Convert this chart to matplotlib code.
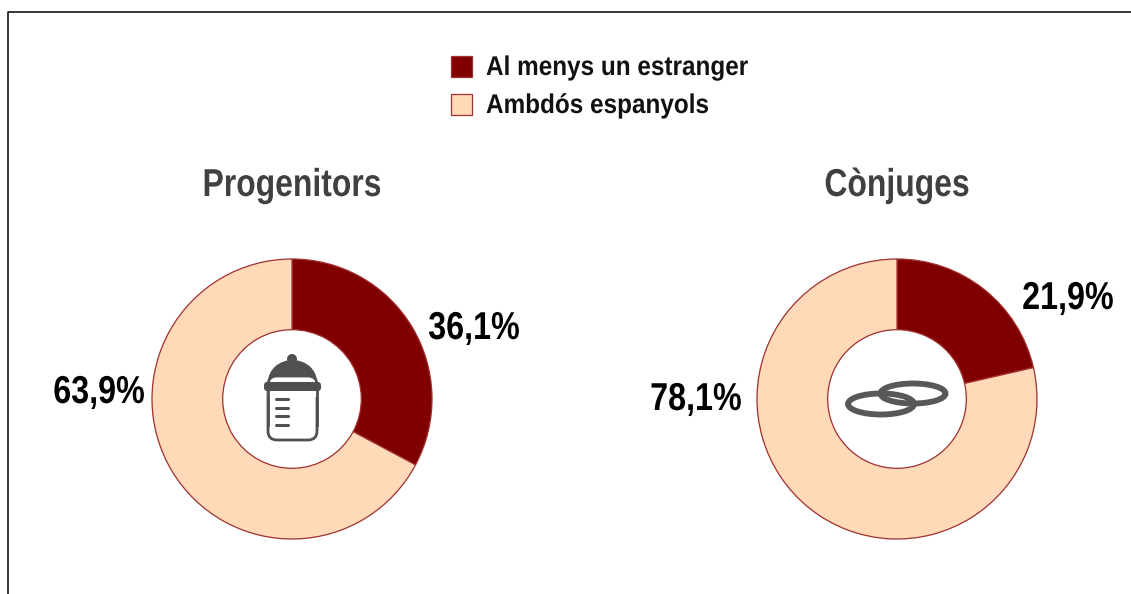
import matplotlib
matplotlib.use("Agg")
import matplotlib.pyplot as plt
from matplotlib.patches import Rectangle, Ellipse, FancyBboxPatch
from matplotlib.lines import Line2D
from matplotlib.patheffects import AbstractPathEffect
from matplotlib.transforms import Affine2D

W, H = 1131, 594
CHART_TITLES = ["Progenitors", "Cònjuges"]
SERIES = ["Al menys un estranger", "Ambdós espanyols"]
# slice sizes as drawn in the picture (the printed labels differ from them)
PROGENITORS = [32.8, 67.2]
CONJUGES = [21.4, 78.6]
LABELS_P = ["36,1%", "63,9%"]
LABELS_C = ["21,9%", "78,1%"]
COLORS = ["#800000", "#FFD9B8"]
EDGE = "#A03030"
GREY = "#505050"
FONT = ["Liberation Sans", "DejaVu Sans"]


class Narrow(AbstractPathEffect):
    """Squeeze real text horizontally about a pixel column."""
    def __init__(self, cx, k):
        super().__init__()
        self.cx, self.k = cx, k

    def draw_path(self, renderer, gc, tpath, affine, rgbFace=None):
        squeeze = Affine2D().translate(-self.cx, 0).scale(self.k, 1).translate(self.cx, 0)
        renderer.draw_path(gc, tpath, affine + squeeze, rgbFace)


fig = plt.figure(figsize=(W / 100, H / 100), dpi=100, facecolor="white")


def donut(cx, cy, r, vals):
    ax = fig.add_axes([(cx - r - 2) / W, 1 - (cy + r + 2) / H, (2 * r + 4) / W, (2 * r + 4) / H])
    ax.pie(vals, colors=COLORS, startangle=90, counterclock=False, radius=1.0,
           wedgeprops=dict(width=0.505, edgecolor=EDGE, linewidth=0.9))
    ax.set_xlim(-(r + 2) / r, (r + 2) / r); ax.set_ylim(-(r + 2) / r, (r + 2) / r)
    ax.set_aspect("equal"); ax.axis("off")
    ax.patch.set_alpha(0)


donut(292, 399, 140, PROGENITORS)
donut(897, 399, 140, CONJUGES)

top = fig.add_axes([0, 0, 1, 1])
top.set_xlim(0, W); top.set_ylim(H, 0); top.axis("off"); top.patch.set_alpha(0)

# frame
top.add_line(Line2D([8, 8, W], [H, 12, 12], color="black", lw=1.1))

# legend
for y, c, s in zip([56, 94], COLORS, SERIES):
    top.add_patch(Rectangle((451, y), 21, 21, fc=c, ec=EDGE, lw=0.9))
    t = top.text(486, y + 12, s, family=FONT, weight="bold", fontsize=19.5, color="#111111",
                 va="center", ha="left")
    t.set_path_effects([Narrow(486, 0.898)])

# titles
for x, s in zip([292, 897], CHART_TITLES):
    t = top.text(x, 186, s, family=FONT, weight="bold", fontsize=28, color="#404040",
                 va="center", ha="center")
    t.set_path_effects([Narrow(x, 0.82)])

# data labels
for (x, y), s in zip([(474, 329), (99, 393), (1068, 299), (696, 400)], LABELS_P + LABELS_C):
    t = top.text(x, y, s, family=FONT, weight="bold", fontsize=28, color="black",
                 va="center", ha="center")
    t.set_path_effects([Narrow(x, 0.83)])

# bottle icon
top.add_patch(Ellipse((292.5, 382), 49, 44, fc=GREY, ec="none"))
top.add_patch(Ellipse((292, 359), 10, 10, fc=GREY, ec="none"))
top.add_patch(FancyBboxPatch((268, 376), 49, 51 + 13, boxstyle="round,pad=0,rounding_size=9",
                             fc="white", ec=GREY, lw=2.0))
top.add_patch(Rectangle((266.5, 383), 52, 14, fc="white", ec="none", zorder=2.1))
top.add_line(Line2D([268, 268], [389, 425], color=GREY, lw=2.0, zorder=2.2))
top.add_line(Line2D([317, 317], [389, 425], color=GREY, lw=2.0, zorder=2.2))
top.add_patch(FancyBboxPatch((264, 382), 57, 9, boxstyle="round,pad=0,rounding_size=3",
                             fc=GREY, ec="none", zorder=2.3))
for y in [399, 408, 416, 425]:
    top.add_line(Line2D([275.5, 287.5], [y, y], color=GREY, lw=2.2, solid_capstyle="round", zorder=2.3))

# rings icon
top.add_patch(Ellipse((881, 404), 66, 21, fc="none", ec="#585858", lw=4.2))
top.add_patch(Ellipse((913, 393.5), 65, 20, fc="none", ec="#585858", lw=4.2))

fig.savefig("out.png", dpi=100)
